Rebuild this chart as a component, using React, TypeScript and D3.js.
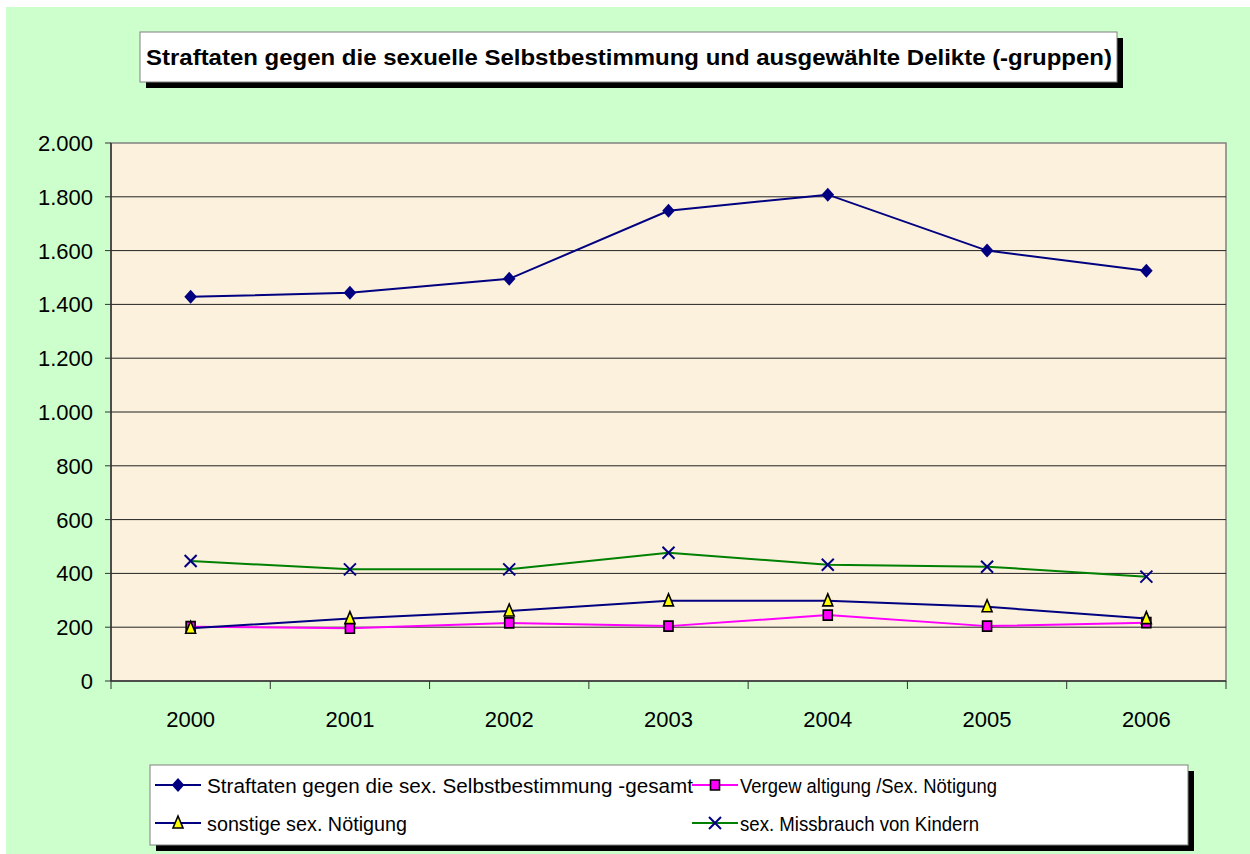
import React from "react";
import * as d3 from "d3";

const years = ["2000", "2001", "2002", "2003", "2004", "2005", "2006"];
const gesamt = [1428, 1443, 1495, 1748, 1808, 1600, 1525];
const vergewaltigung = [202, 196, 216, 204, 245, 204, 217];
const sonstige = [196, 232, 260, 298, 298, 276, 232];
const missbrauch = [446, 415, 415, 477, 432, 425, 388];
const yTicks = [0, 200, 400, 600, 800, 1000, 1200, 1400, 1600, 1800, 2000];
const titleText = "Straftaten gegen die sexuelle Selbstbestimmung und ausgewählte Delikte (-gruppen)";
const legendLabels = [
  "Straftaten gegen die sex. Selbstbestimmung -gesamt",
  "Vergew altigung /Sex. Nötigung",
  "sonstige sex. Nötigung",
  "sex. Missbrauch von Kindern",
];

const W = 1250, H = 854;
const PL = 111, PR = 1226, PT = 143, PB = 681;

const diamondType = { draw(ctx: any) { ctx.moveTo(0, -7); ctx.lineTo(6.3, 0); ctx.lineTo(0, 7); ctx.lineTo(-6.3, 0); ctx.closePath(); } };
const squareType = { draw(ctx: any) { ctx.moveTo(-4.5, -5); ctx.lineTo(4.5, -5); ctx.lineTo(4.5, 5); ctx.lineTo(-4.5, 5); ctx.closePath(); } };
const triType = { draw(ctx: any) { ctx.moveTo(0, -7); ctx.lineTo(5, 5); ctx.lineTo(-5, 5); ctx.closePath(); } };
const xType = { draw(ctx: any) { ctx.moveTo(-6, -6); ctx.lineTo(6, 6); ctx.moveTo(6, -6); ctx.lineTo(-6, 6); } };

const series = [
  { name: legendLabels[0], values: gesamt, line: "#000080", sym: diamondType, fill: "#000080", stroke: "none", sw: 0 },
  { name: legendLabels[1], values: vergewaltigung, line: "#FF00FF", sym: squareType, fill: "#FF00FF", stroke: "#000000", sw: 1.6 },
  { name: legendLabels[2], values: sonstige, line: "#000080", sym: triType, fill: "#FFFF00", stroke: "#000000", sw: 1.6 },
  { name: legendLabels[3], values: missbrauch, line: "#008000", sym: xType, fill: "none", stroke: "#000080", sw: 2 },
];

export default function App() {
  const x = d3.scaleBand<string>().domain(years).range([PL, PR]).padding(0);
  const y = d3.scaleLinear().domain([0, 2000]).range([PB, PT]);
  const cx = (yr: string) => (x(yr) as number) + x.bandwidth() / 2;
  const line = d3.line<number>().x((_, i) => cx(years[i])).y((v) => y(v));
  const sym = (t: any) => d3.symbol().type(t)() as string;

  const legendPos = [
    { lx: 155, ly: 785, tx: 207, tl: 486 },
    { lx: 692, ly: 785, tx: 740, tl: 257 },
    { lx: 155, ly: 823, tx: 207, tl: 200 },
    { lx: 692, ly: 823, tx: 740, tl: 239 },
  ];

  const font = "Arial, 'Liberation Sans', sans-serif";

  return (
    <svg width={W} height={H} style={{ position: "absolute", left: 0, top: 0 }} fontFamily={font}>
      <rect x={0} y={0} width={W} height={H} fill="#ffffff" />
      <rect x={6} y={7} width={W - 6} height={H - 7} fill="#CCFFCC" />

      {/* title */}
      <rect x={146} y={38} width={977} height={50} fill="#000" />
      <rect x={140} y={32} width={977} height={50} fill="#fff" stroke="#808080" strokeWidth={1} />
      <text x={629} y={65} textAnchor="middle" fontSize={21.5} fontWeight="bold" textLength={966} lengthAdjust="spacingAndGlyphs">{titleText}</text>

      {/* plot area */}
      <rect x={PL} y={PT} width={PR - PL} height={PB - PT} fill="#FCF1DD" stroke="#808080" strokeWidth={1.5} />
      {yTicks.filter((t) => t > 0 && t < 2000).map((t) => (
        <line key={t} x1={PL} x2={PR} y1={y(t)} y2={y(t)} stroke="#222" strokeWidth={1} />
      ))}
      {/* axes */}
      <line x1={PL} x2={PL} y1={PT} y2={PB} stroke="#333" strokeWidth={1.5} />
      <line x1={PL} x2={PR} y1={PB} y2={PB} stroke="#333" strokeWidth={1.5} />
      {yTicks.map((t) => (
        <g key={t}>
          <line x1={PL - 6} x2={PL} y1={y(t)} y2={y(t)} stroke="#333" strokeWidth={1} />
          <text x={93} y={y(t) + 8} textAnchor="end" fontSize={22} fill="#000">{d3.format(",")(t).replace(/,/g, ".")}</text>
        </g>
      ))}
      {years.map((yr) => (
        <line key={"t" + yr} x1={x(yr) as number} x2={x(yr) as number} y1={PB} y2={PB + 8} stroke="#333" strokeWidth={1} />
      ))}
      <line x1={PR} x2={PR} y1={PB} y2={PB + 8} stroke="#333" strokeWidth={1} />
      {years.map((yr) => (
        <text key={"l" + yr} x={cx(yr)} y={727} textAnchor="middle" fontSize={22} fill="#000">{yr}</text>
      ))}

      {/* series */}
      {series.map((s, si) => (
        <g key={si}>
          <path d={line(s.values) as string} fill="none" stroke={s.line} strokeWidth={2} />
          {s.values.map((v, i) => (
            <path key={i} d={sym(s.sym)} transform={`translate(${cx(years[i])},${y(v)})`} fill={s.fill} stroke={s.stroke} strokeWidth={s.sw} />
          ))}
        </g>
      ))}

      {/* legend */}
      <rect x={156} y={771} width={1038} height={80} fill="#000" />
      <rect x={150} y={765} width={1038} height={80} fill="#fff" stroke="#808080" strokeWidth={1} />
      {series.map((s, si) => {
        const p = legendPos[si];
        return (
          <g key={"lg" + si}>
            <line x1={p.lx} x2={p.lx + 46} y1={p.ly} y2={p.ly} stroke={s.line} strokeWidth={2} />
            <path d={sym(s.sym)} transform={`translate(${p.lx + 23},${p.ly})`} fill={s.fill} stroke={s.stroke} strokeWidth={s.sw} />
            <text x={p.tx} y={p.ly + 7.5} fontSize={20.5} fill="#000" textLength={p.tl} lengthAdjust="spacingAndGlyphs">{s.name}</text>
          </g>
        );
      })}
    </svg>
  );
}
